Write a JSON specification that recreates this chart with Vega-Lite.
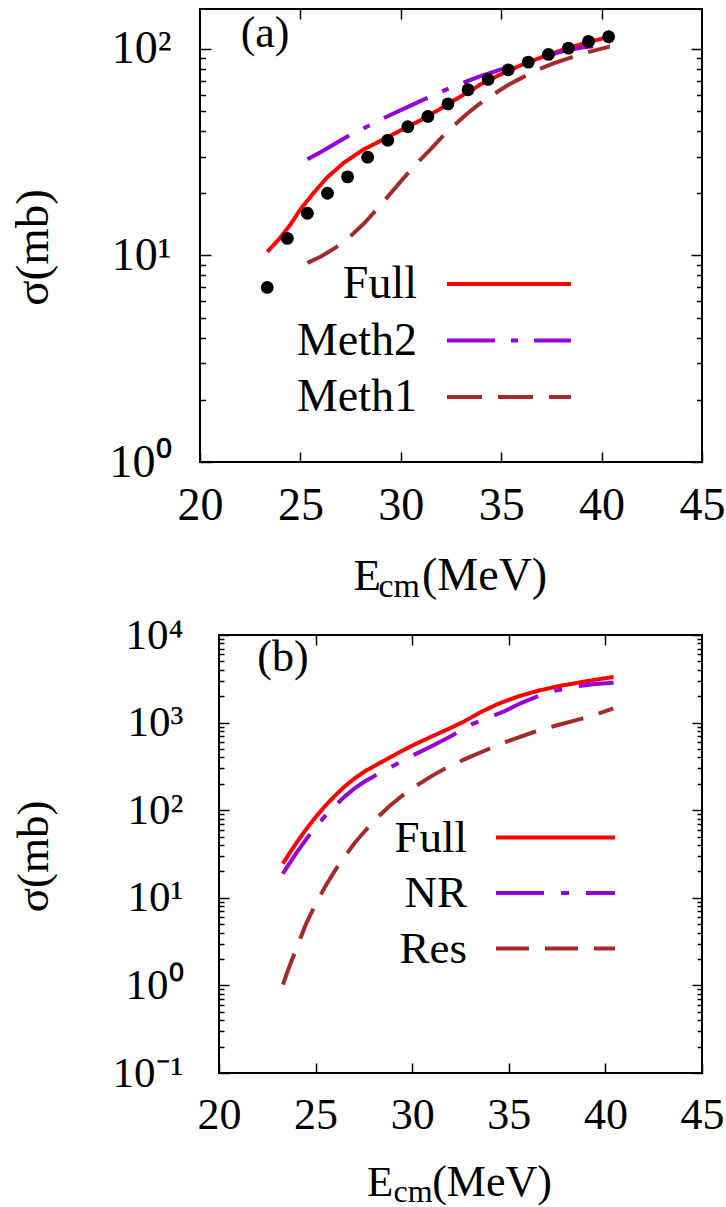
{
  "$schema": "https://vega.github.io/schema/vega-lite/v6.json",
  "autosize": {"type": "pad"},
  "padding": {"left": 8, "top": 7, "right": 0, "bottom": 0},
  "background": "white",
  "config": {
    "view": {"stroke": "black", "strokeWidth": 2},
    "axis": {"domain": false, "grid": false, "tickColor": "black", "tickWidth": 1.5, "labelColor": "black", "titleColor": "black", "labelFont": "Liberation Serif", "titleFont": "Liberation Serif", "titleFontWeight": "normal", "labelFlush": false, "labelOverlap": false, "labelBound": false},
    "style": {"guide-label": {"font": "Liberation Serif"}, "guide-title": {"font": "Liberation Serif"}},
    "legend": {"orient": "none", "symbolStrokeWidth": 4, "labelFont": "Liberation Serif", "labelColor": "black", "labelAlign": "right", "labelLimit": 500, "padding": 0, "labelBaseline": "middle"},
    "text": {"font": "Liberation Serif", "color": "black"}
  },
  "spacing": 173,
  "bounds": "flush",
  "resolve": {"scale": {"color": "independent", "strokeDash": "independent", "x": "independent", "y": "independent"}},
  "vconcat": [
    {
      "width": 502,
      "height": 453,
      "resolve": {"axis": {"x": "independent", "y": "independent"}},
      "layer": [
        {
          "data": {"values": [
            {"s": "Full", "E": 23.35, "v": 10.4}, {"s": "Full", "E": 24.0, "v": 12.2}, {"s": "Full", "E": 24.5, "v": 14.1}, {"s": "Full", "E": 25.0, "v": 16.7}, {"s": "Full", "E": 25.66, "v": 20.1}, {"s": "Full", "E": 26.32, "v": 23.8}, {"s": "Full", "E": 27.16, "v": 28.1}, {"s": "Full", "E": 28.15, "v": 32.6}, {"s": "Full", "E": 29.15, "v": 36.5}, {"s": "Full", "E": 30.3, "v": 41.8}, {"s": "Full", "E": 31.0, "v": 45.2}, {"s": "Full", "E": 32.0, "v": 51.5}, {"s": "Full", "E": 33.0, "v": 59}, {"s": "Full", "E": 34.0, "v": 67.5}, {"s": "Full", "E": 35.0, "v": 75.5}, {"s": "Full", "E": 36.0, "v": 83.5}, {"s": "Full", "E": 37.0, "v": 91}, {"s": "Full", "E": 38.0, "v": 98.5}, {"s": "Full", "E": 39.0, "v": 105.5}, {"s": "Full", "E": 40.0, "v": 112}, {"s": "Full", "E": 40.4, "v": 115},
            {"s": "Meth2", "E": 25.35, "v": 29.2}, {"s": "Meth2", "E": 26.0, "v": 31.6}, {"s": "Meth2", "E": 27.0, "v": 36}, {"s": "Meth2", "E": 27.5, "v": 38.4}, {"s": "Meth2", "E": 28.0, "v": 40.5}, {"s": "Meth2", "E": 29.0, "v": 45.5}, {"s": "Meth2", "E": 30.0, "v": 50.5}, {"s": "Meth2", "E": 31.0, "v": 56}, {"s": "Meth2", "E": 32.0, "v": 62}, {"s": "Meth2", "E": 33.0, "v": 68}, {"s": "Meth2", "E": 34.0, "v": 74}, {"s": "Meth2", "E": 35.0, "v": 79.5}, {"s": "Meth2", "E": 36.0, "v": 85}, {"s": "Meth2", "E": 37.0, "v": 91}, {"s": "Meth2", "E": 38.0, "v": 97}, {"s": "Meth2", "E": 39.0, "v": 101.5}, {"s": "Meth2", "E": 40.0, "v": 104.3}, {"s": "Meth2", "E": 40.4, "v": 105.3},
            {"s": "Meth1", "E": 25.35, "v": 9.2}, {"s": "Meth1", "E": 26.0, "v": 9.85}, {"s": "Meth1", "E": 26.75, "v": 10.9}, {"s": "Meth1", "E": 27.5, "v": 12.4}, {"s": "Meth1", "E": 28.2, "v": 14.4}, {"s": "Meth1", "E": 28.7, "v": 16.3}, {"s": "Meth1", "E": 29.2, "v": 18.5}, {"s": "Meth1", "E": 29.75, "v": 21.4}, {"s": "Meth1", "E": 30.3, "v": 24.7}, {"s": "Meth1", "E": 30.9, "v": 28.6}, {"s": "Meth1", "E": 31.5, "v": 32.8}, {"s": "Meth1", "E": 32.0, "v": 37}, {"s": "Meth1", "E": 32.7, "v": 43}, {"s": "Meth1", "E": 33.3, "v": 48.5}, {"s": "Meth1", "E": 33.9, "v": 54}, {"s": "Meth1", "E": 34.7, "v": 61}, {"s": "Meth1", "E": 35.3, "v": 66.5}, {"s": "Meth1", "E": 35.85, "v": 71}, {"s": "Meth1", "E": 36.85, "v": 79.5}, {"s": "Meth1", "E": 37.6, "v": 85}, {"s": "Meth1", "E": 38.35, "v": 90}, {"s": "Meth1", "E": 39.25, "v": 96}, {"s": "Meth1", "E": 40.4, "v": 102.5}
          ]},
          "mark": {"type": "line", "strokeWidth": 4},
          "encoding": {
            "x": {"field": "E", "type": "quantitative", "scale": {"domain": [20, 45], "nice": false, "zero": false},
                  "axis": {"orient": "bottom", "values": [20, 25, 30, 35, 40, 45], "tickSize": -10, "labelFont": "Liberation Serif", "labelFontSize": 46, "labelPadding": 31, "title": "E", "titleFontSize": 45, "titleX": 153, "titleY": 127, "titleAlign": "left", "titleBaseline": "alphabetic"}},
            "y": {"field": "v", "type": "quantitative", "scale": {"type": "log", "domain": [1, 156], "nice": false},
                  "axis": {"orient": "left", "values": [1, 2, 3, 4, 5, 6, 7, 8, 9, 10, 20, 30, 40, 50, 60, 70, 80, 90, 100],
                           "tickSize": {"condition": {"test": "datum.value == 1 || datum.value == 10 || datum.value == 100", "value": -11}, "value": -5.5},
                           "labelExpr": "datum.value == 1 ? '10⁰' : datum.value == 10 ? '10¹' : datum.value == 100 ? '10²' : ''",
                           "labelFont": "Liberation Serif", "labelFontSize": 46, "labelPadding": 40, "title": "σ(mb)", "titleFontSize": 47, "titleX": -143, "titleY": 238, "titleAlign": "center", "titleBaseline": "bottom"}},
            "color": {"field": "s", "type": "nominal", "scale": {"domain": ["Full", "Meth2", "Meth1"], "range": ["#ff0000", "#9400d3", "#a52a2a"]},
                      "legend": {"title": null, "orient": "none", "legendX": 286, "legendY": 252, "symbolType": "M-3,0H3", "symbolSize": 1708, "labelFontSize": 46, "labelOffset": -115, "rowPadding": 10.5}},
            "strokeDash": {"field": "s", "type": "nominal", "scale": {"domain": ["Full", "Meth2", "Meth1"], "range": [[1, 0], [48, 16, 7, 16], [35, 16]]},
                      "legend": {"title": null, "orient": "none", "legendX": 286, "legendY": 252, "symbolType": "M-3,0H3", "symbolSize": 1708, "labelFontSize": 46, "labelOffset": -115, "rowPadding": 10.5}}
          }
        },
        {
          "data": {"values": [
            {"E": 23.35, "v": 7.0}, {"E": 24.35, "v": 12.1}, {"E": 25.35, "v": 16.0}, {"E": 26.35, "v": 20.0}, {"E": 27.35, "v": 24.0}, {"E": 28.35, "v": 29.9}, {"E": 29.35, "v": 36.1}, {"E": 30.35, "v": 42.0}, {"E": 31.35, "v": 47.1}, {"E": 32.35, "v": 54.2}, {"E": 33.35, "v": 63.4}, {"E": 34.35, "v": 71.2}, {"E": 35.35, "v": 79.2}, {"E": 36.35, "v": 86.3}, {"E": 37.35, "v": 94.0}, {"E": 38.35, "v": 100.9}, {"E": 39.35, "v": 108.7}, {"E": 40.35, "v": 114.5}
          ]},
          "mark": {"type": "circle", "size": 165, "color": "black", "opacity": 1},
          "encoding": {
            "x": {"field": "E", "type": "quantitative", "axis": {"orient": "top", "values": [25, 30, 35, 40], "tickSize": -10, "labels": false, "title": null}},
            "y": {"field": "v", "type": "quantitative",
                  "axis": {"orient": "right", "values": [1, 2, 3, 4, 5, 6, 7, 8, 9, 10, 20, 30, 40, 50, 60, 70, 80, 90, 100],
                           "tickSize": {"condition": {"test": "datum.value == 1 || datum.value == 10 || datum.value == 100", "value": -11}, "value": -5.5},
                           "labels": false, "title": null}}
          }
        },
        {
          "data": {"values": [{}]},
          "mark": {"type": "text", "fontSize": 44, "baseline": "alphabetic", "align": "center"},
          "encoding": {
            "x": {"datum": 23.24, "type": "quantitative", "axis": {"orient": "bottom", "labels": false, "ticks": false, "title": "cm", "titleFontSize": 34, "titleX": 178, "titleY": 134, "titleAlign": "left", "titleBaseline": "alphabetic"}},
            "y": {"datum": 102, "type": "quantitative", "axis": null},
            "text": {"value": "(a)"}
          }
        },
        {
          "data": {"values": [{}]},
          "mark": {"type": "text", "fontSize": 10},
          "encoding": {
            "x": {"datum": 30, "type": "quantitative", "axis": {"orient": "bottom", "labels": false, "ticks": false, "title": "(MeV)", "titleFontSize": 46, "titleX": 221.5, "titleY": 127, "titleAlign": "left", "titleBaseline": "alphabetic"}},
            "y": {"datum": 10, "type": "quantitative", "axis": null},
            "text": {"value": ""}
          }
        }
      ]
    },
    {
      "spacing": 0,
      "bounds": "flush",
      "resolve": {"scale": {"color": "independent", "strokeDash": "independent", "x": "independent", "y": "independent"}},
      "hconcat": [
        {
          "width": 19,
          "height": 10,
          "view": {"stroke": null},
          "data": {"values": [{}]},
          "mark": {"type": "point", "opacity": 0}
        },
        {
          "width": 483,
          "height": 438,
          "resolve": {"axis": {"x": "independent", "y": "independent"}},
          "layer": [
            {
              "data": {"values": [
                {"s": "Full", "E": 23.3, "v": 24.5}, {"s": "Full", "E": 23.6, "v": 31.0}, {"s": "Full", "E": 24.0, "v": 42.1}, {"s": "Full", "E": 24.5, "v": 60.1}, {"s": "Full", "E": 25.0, "v": 83.3}, {"s": "Full", "E": 25.5, "v": 112}, {"s": "Full", "E": 26.0, "v": 146}, {"s": "Full", "E": 26.5, "v": 186}, {"s": "Full", "E": 27.0, "v": 229}, {"s": "Full", "E": 27.56, "v": 279}, {"s": "Full", "E": 28.0, "v": 316}, {"s": "Full", "E": 28.5, "v": 363}, {"s": "Full", "E": 29.0, "v": 417}, {"s": "Full", "E": 29.5, "v": 479}, {"s": "Full", "E": 30.14, "v": 565}, {"s": "Full", "E": 31.0, "v": 692}, {"s": "Full", "E": 32.0, "v": 871}, {"s": "Full", "E": 32.73, "v": 1042}, {"s": "Full", "E": 33.5, "v": 1303}, {"s": "Full", "E": 34.46, "v": 1641}, {"s": "Full", "E": 35.5, "v": 1995}, {"s": "Full", "E": 36.53, "v": 2317}, {"s": "Full", "E": 37.5, "v": 2588}, {"s": "Full", "E": 38.6, "v": 2858}, {"s": "Full", "E": 39.5, "v": 3090}, {"s": "Full", "E": 40.42, "v": 3318},
                {"s": "NR", "E": 23.3, "v": 18.8}, {"s": "NR", "E": 23.6, "v": 23.8}, {"s": "NR", "E": 24.0, "v": 32.3}, {"s": "NR", "E": 24.5, "v": 46.1}, {"s": "NR", "E": 25.0, "v": 64}, {"s": "NR", "E": 25.5, "v": 86}, {"s": "NR", "E": 26.0, "v": 112}, {"s": "NR", "E": 26.5, "v": 143}, {"s": "NR", "E": 27.0, "v": 176}, {"s": "NR", "E": 27.56, "v": 214}, {"s": "NR", "E": 28.0, "v": 243}, {"s": "NR", "E": 28.5, "v": 279}, {"s": "NR", "E": 29.0, "v": 320}, {"s": "NR", "E": 29.5, "v": 367}, {"s": "NR", "E": 30.14, "v": 434}, {"s": "NR", "E": 31.0, "v": 537}, {"s": "NR", "E": 32.0, "v": 700}, {"s": "NR", "E": 33.07, "v": 957}, {"s": "NR", "E": 34.0, "v": 1148}, {"s": "NR", "E": 34.8, "v": 1356}, {"s": "NR", "E": 35.6, "v": 1660}, {"s": "NR", "E": 36.53, "v": 2013}, {"s": "NR", "E": 37.5, "v": 2344}, {"s": "NR", "E": 38.6, "v": 2618}, {"s": "NR", "E": 39.5, "v": 2754}, {"s": "NR", "E": 40.42, "v": 2858},
                {"s": "Res", "E": 23.31, "v": 1.02}, {"s": "Res", "E": 23.6, "v": 1.55}, {"s": "Res", "E": 24.0, "v": 2.63}, {"s": "Res", "E": 24.5, "v": 5.0}, {"s": "Res", "E": 25.0, "v": 8.5}, {"s": "Res", "E": 25.5, "v": 13.5}, {"s": "Res", "E": 26.0, "v": 20.4}, {"s": "Res", "E": 26.5, "v": 29.5}, {"s": "Res", "E": 27.0, "v": 41.7}, {"s": "Res", "E": 27.5, "v": 56}, {"s": "Res", "E": 28.16, "v": 81}, {"s": "Res", "E": 28.8, "v": 110}, {"s": "Res", "E": 29.46, "v": 145}, {"s": "Res", "E": 30.14, "v": 186}, {"s": "Res", "E": 31.0, "v": 245}, {"s": "Res", "E": 31.61, "v": 292}, {"s": "Res", "E": 32.7, "v": 380}, {"s": "Res", "E": 33.86, "v": 490}, {"s": "Res", "E": 35.0, "v": 617}, {"s": "Res", "E": 36.27, "v": 776}, {"s": "Res", "E": 37.5, "v": 933}, {"s": "Res", "E": 38.69, "v": 1096}, {"s": "Res", "E": 39.5, "v": 1230}, {"s": "Res", "E": 40.41, "v": 1450}
              ]},
              "mark": {"type": "line", "strokeWidth": 4},
              "encoding": {
                "x": {"field": "E", "type": "quantitative", "scale": {"domain": [20, 45], "nice": false, "zero": false},
                      "axis": {"orient": "bottom", "values": [20, 25, 30, 35, 40, 45], "tickSize": -10, "labelFont": "Liberation Serif", "labelFontSize": 44, "labelPadding": 30, "title": "E", "titleFontSize": 43, "titleX": 147.5, "titleY": 122, "titleAlign": "left", "titleBaseline": "alphabetic"}},
                "y": {"field": "v", "type": "quantitative", "scale": {"type": "log", "domain": [0.1, 10000], "nice": false},
                      "axis": {"orient": "left", "values": [0.1, 0.2, 0.3, 0.4, 0.5, 0.6, 0.7, 0.8, 0.9, 1, 2, 3, 4, 5, 6, 7, 8, 9, 10, 20, 30, 40, 50, 60, 70, 80, 90, 100, 200, 300, 400, 500, 600, 700, 800, 900, 1000, 2000, 3000, 4000, 5000, 6000, 7000, 8000, 9000, 10000],
                               "tickSize": {"condition": {"test": "indexof([0.1, 1, 10, 100, 1000, 10000], datum.value) >= 0", "value": -10}, "value": -5},
                               "labelExpr": "datum.value == 0.1 ? '10⁻¹' : datum.value == 1 ? '10⁰' : datum.value == 10 ? '10¹' : datum.value == 100 ? '10²' : datum.value == 1000 ? '10³' : datum.value == 10000 ? '10⁴' : ''",
                               "labelFont": "Liberation Serif", "labelFontSize": 43, "labelPadding": 46, "title": "σ(mb)", "titleFontSize": 45, "titleX": -163, "titleY": 221, "titleAlign": "center", "titleBaseline": "bottom"}},
                "color": {"field": "s", "type": "nominal", "scale": {"domain": ["Full", "NR", "Res"], "range": ["#ff0000", "#9400d3", "#a52a2a"]},
                          "legend": {"title": null, "orient": "none", "legendX": 314, "legendY": 180, "symbolType": "M-3,0H3", "symbolSize": 1573, "labelFontSize": 45, "labelOffset": -111, "rowPadding": 9.5}},
                "strokeDash": {"field": "s", "type": "nominal", "scale": {"domain": ["Full", "NR", "Res"], "range": [[1, 0], [48, 17, 8, 17], [33, 16]]},
                          "legend": {"title": null, "orient": "none", "legendX": 314, "legendY": 180, "symbolType": "M-3,0H3", "symbolSize": 1573, "labelFontSize": 45, "labelOffset": -111, "rowPadding": 9.5}}
              }
            },
            {
              "data": {"values": [{}]},
              "mark": {"type": "text", "fontSize": 44, "baseline": "alphabetic", "align": "center"},
              "encoding": {
                "x": {"datum": 23.31, "type": "quantitative", "axis": {"orient": "top", "values": [25, 30, 35, 40], "tickSize": -10, "labels": false, "title": null}},
                "y": {"datum": 3880, "type": "quantitative",
                      "axis": {"orient": "right", "values": [0.1, 0.2, 0.3, 0.4, 0.5, 0.6, 0.7, 0.8, 0.9, 1, 2, 3, 4, 5, 6, 7, 8, 9, 10, 20, 30, 40, 50, 60, 70, 80, 90, 100, 200, 300, 400, 500, 600, 700, 800, 900, 1000, 2000, 3000, 4000, 5000, 6000, 7000, 8000, 9000, 10000],
                               "tickSize": {"condition": {"test": "indexof([0.1, 1, 10, 100, 1000, 10000], datum.value) >= 0", "value": -10}, "value": -5},
                               "labels": false, "title": null}},
                "text": {"value": "(b)"}
              }
            },
            {
              "data": {"values": [{}]},
              "mark": {"type": "text", "fontSize": 10},
              "encoding": {
                "x": {"datum": 30, "type": "quantitative", "axis": {"orient": "bottom", "labels": false, "ticks": false, "title": "cm", "titleFontSize": 32, "titleX": 174, "titleY": 128, "titleAlign": "left", "titleBaseline": "alphabetic"}},
                "y": {"datum": 10, "type": "quantitative", "axis": null},
                "text": {"value": ""}
              }
            },
            {
              "data": {"values": [{}]},
              "mark": {"type": "text", "fontSize": 10},
              "encoding": {
                "x": {"datum": 30, "type": "quantitative", "axis": {"orient": "bottom", "labels": false, "ticks": false, "title": "(MeV)", "titleFontSize": 44, "titleX": 212.7, "titleY": 122, "titleAlign": "left", "titleBaseline": "alphabetic"}},
                "y": {"datum": 10, "type": "quantitative", "axis": null},
                "text": {"value": ""}
              }
            }
          ]
        }
      ]
    }
  ]
}
